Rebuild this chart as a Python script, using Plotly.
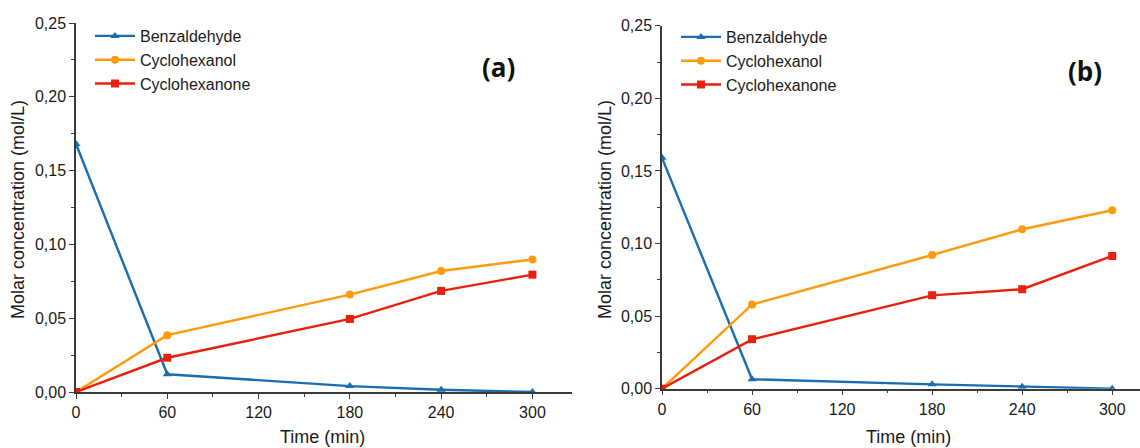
import plotly.graph_objects as go

# Sampling times (min)
time_min = [0, 60, 180, 240, 300]

# Panel (a) concentrations (mol/L)
a_benzaldehyde = [0.168, 0.012, 0.004, 0.0015, 0.0]
a_cyclohexanol = [0.0, 0.0385, 0.066, 0.082, 0.0898]
a_cyclohexanone = [0.0, 0.0232, 0.0495, 0.0685, 0.0795]

# Panel (b) concentrations (mol/L)
b_benzaldehyde = [0.159, 0.0065, 0.003, 0.0014, 0.0]
b_cyclohexanol = [0.0, 0.058, 0.0921, 0.1098, 0.1229]
b_cyclohexanone = [0.0, 0.034, 0.0643, 0.0685, 0.0914]

series_names = ["Benzaldehyde", "Cyclohexanol", "Cyclohexanone"]
colors = ["#1a6daf", "#ff9a0d", "#e8200e"]
symbols = ["triangle-up", "circle", "square"]

W, H = 1140, 448
FONT = "Liberation Sans, Arial, sans-serif"
AXC = "#3a3a3a"
TXT = "#1a1a1a"

fig = go.Figure()

panels = [
    ("x", "y", "legend", [a_benzaldehyde, a_cyclohexanol, a_cyclohexanone]),
    ("x2", "y2", "legend2", [b_benzaldehyde, b_cyclohexanol, b_cyclohexanone]),
]
for xa, ya, lg, data in panels:
    for name, vals, c, s in zip(series_names, data, colors, symbols):
        fig.add_trace(go.Scatter(
            x=time_min, y=vals, name=name, mode="lines+markers",
            line=dict(color=c, width=2.4),
            marker=dict(symbol=s, size=8, color=c),
            xaxis=xa, yaxis=ya, legend=lg,
        ))

def px_x(p):
    return p / W

def px_y(p):
    return 1 - p / H

xaxis_common = dict(
    showline=True, linecolor=AXC, linewidth=1.5,
    ticks="outside", ticklen=5, tickwidth=1.2, tickcolor=AXC,
    tickmode="array", tickvals=[0, 60, 120, 180, 240, 300],
    minor=dict(ticks="outside", ticklen=3, tickcolor=AXC, tickwidth=1,
               tickvals=[30, 90, 150, 210, 270]),
    showgrid=False, zeroline=False,
    tickfont=dict(family=FONT, size=16, color=TXT),
    automargin=False,
)
yaxis_common = dict(
    showline=True, linecolor=AXC, linewidth=1.5,
    ticks="outside", ticklen=5, tickwidth=1.2, tickcolor=AXC,
    range=[0, 0.25], tickvals=[0, 0.05, 0.10, 0.15, 0.20, 0.25],
    tickformat=".2f",
    minor=dict(ticks="outside", ticklen=3, tickcolor=AXC, tickwidth=1,
               tickvals=[0.025, 0.075, 0.125, 0.175, 0.225]),
    showgrid=False, zeroline=False,
    tickfont=dict(family=FONT, size=16, color=TXT),
    automargin=False,
)

legend_font = dict(family=FONT, size=16, color=TXT)
fig.update_layout(
    width=W, height=H,
    margin=dict(l=0, r=0, t=0, b=0),
    paper_bgcolor="white", plot_bgcolor="white",
    separators=",.",
    showlegend=True,
    xaxis=dict(xaxis_common, domain=[px_x(76), px_x(572)], range=[0, 326], anchor="y"),
    yaxis=dict(yaxis_common, domain=[px_y(392), px_y(23)], anchor="x"),
    xaxis2=dict(xaxis_common, domain=[px_x(662), 1.0], range=[0, 318.5], anchor="y2"),
    yaxis2=dict(yaxis_common, domain=[px_y(388.7), px_y(25.7)], anchor="x2"),
    legend=dict(x=px_x(90), y=px_y(19), xanchor="left", yanchor="top",
                font=legend_font, bgcolor="rgba(0,0,0,0)",
                tracegroupgap=0, itemwidth=40),
    legend2=dict(x=px_x(676), y=px_y(20), xanchor="left", yanchor="top",
                 font=legend_font, bgcolor="rgba(0,0,0,0)",
                 tracegroupgap=0, itemwidth=40),
)

title_font = dict(family=FONT, size=18, color=TXT)
label_font = dict(family="Open Sans, Lato, sans-serif", size=26, color="#111")
annotations = [
    dict(text="Molar concentration (mol/L)", textangle=-90, x=px_x(18), y=px_y(210),
         font=title_font),
    dict(text="Molar concentration (mol/L)", textangle=-90, x=px_x(605), y=px_y(210),
         font=title_font),
    dict(text="Time (min)", x=px_x(322), y=px_y(437), font=title_font),
    dict(text="Time (min)", x=px_x(908), y=px_y(437), font=title_font),
    dict(text="<b>(a)</b>", x=px_x(498), y=px_y(67), font=label_font),
    dict(text="<b>(b)</b>", x=px_x(1085), y=px_y(71), font=label_font),
]
for a in annotations:
    fig.add_annotation(xref="paper", yref="paper", showarrow=False,
                       xanchor="center", yanchor="middle", **a)

fig.write_html("out.html")
